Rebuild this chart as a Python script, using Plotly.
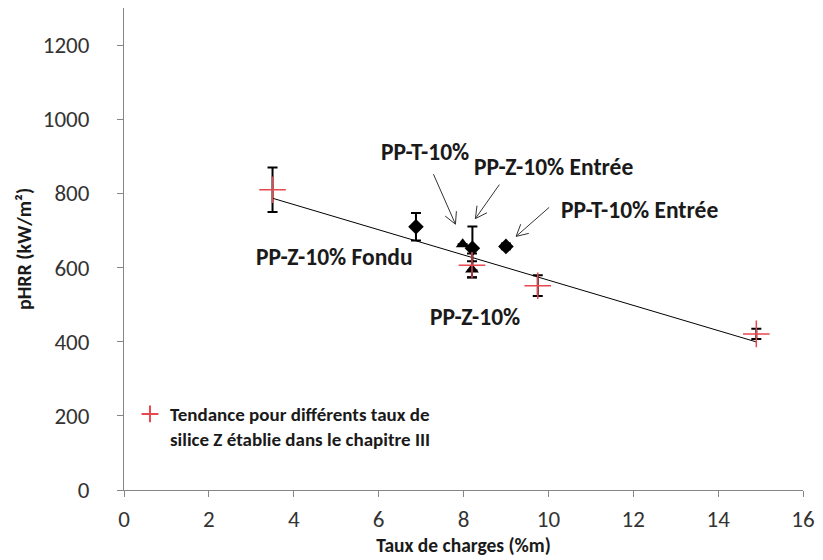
import numpy as np
import plotly.graph_objects as go

FONT = "Calibri, Carlito, 'Open Sans', sans-serif"

# Trend series: different silica Z loadings (chapter III)
trend_x = [3.5, 8.2, 9.75, 14.9]
trend_y = [810, 606, 551, 421]
trend_err = [60, 32, 28, 14]

# Individual formulations
diamond_names = ["PP-Z-10% Fondu", "PP-Z-10% Entrée", "PP-T-10% Entrée"]
diamond_x = [6.88, 8.21, 9.0]
diamond_y = [710, 652, 657]
diamond_err = [37, 59, 8]

triangle_names = ["PP-T-10%", "PP-Z-10%"]
triangle_x = [7.98, 8.2]
triangle_y = [663, 595]
triangle_err = [0, 22]

# Linear fit of the trend series
slope, intercept = np.polyfit(trend_x, trend_y, 1)
fit_x = np.array([min(trend_x), max(trend_x)])
fit_y = slope * fit_x + intercept

fig = go.Figure()

fig.add_trace(go.Scatter(
    x=fit_x, y=fit_y, mode="lines",
    line=dict(color="black", width=1), showlegend=False, hoverinfo="skip"))

err_style = dict(type="data", visible=True, color="black", thickness=2, width=5)

fig.add_trace(go.Scatter(
    x=diamond_x, y=diamond_y, mode="markers", text=diamond_names,
    marker=dict(symbol="diamond", size=12, color="black"),
    error_y=dict(array=diamond_err, **err_style), showlegend=False))

fig.add_trace(go.Scatter(
    x=triangle_x, y=triangle_y, mode="markers", text=triangle_names,
    marker=dict(symbol="triangle-up", size=12, color="black"),
    error_y=dict(array=triangle_err, **err_style), showlegend=False))

fig.add_trace(go.Scatter(
    x=trend_x, y=trend_y, mode="markers",
    name="Tendance pour différents taux de<br>silice Z établie dans le chapitre III",
    marker=dict(symbol="cross-thin", size=19,
                line=dict(color="#e8474d", width=1.5), color="#e8474d"),
    error_y=dict(array=trend_err, **err_style)))

# Labels with arrows: (text, label x, label y, arrow head x, head y, tail offset px)
labels = [
    ("PP-T-10%", 7.09, 911, 7.81, 717, (-22, 50)),
    ("PP-Z-10% Entrée", 10.13, 870, 8.28, 732, (24, 34)),
    ("PP-T-10% Entrée", 12.15, 754, 9.24, 684, (33, 29)),
    ("PP-Z-10% Fondu", 4.95, 628, None, None, None),
    ("PP-Z-10%", 8.27, 466, None, None, None),
]

shapes = []
for text, lx, ly, hx, hy, tail in labels:
    fig.add_annotation(x=lx, y=ly, text=f"<b>{text}</b>", showarrow=False,
                       font=dict(family=FONT, size=23.5, color="#1a1a1a"))
    if hx is None:
        continue
    dx, dy = tail
    line = dict(color="#333333", width=1)
    common = dict(type="line", xref="x", yref="y", xsizemode="pixel",
                  ysizemode="pixel", xanchor=hx, yanchor=hy, line=line)
    shapes.append(dict(x0=0, y0=0, x1=dx, y1=dy, **common))
    u = np.array([dx, dy]) / np.hypot(dx, dy)
    for ang in (np.radians(28), -np.radians(28)):
        rot = np.array([[np.cos(ang), -np.sin(ang)], [np.sin(ang), np.cos(ang)]])
        w = rot @ u * 13
        shapes.append(dict(x0=0, y0=0, x1=float(w[0]), y1=float(w[1]), **common))

axis_common = dict(
    showline=True, linecolor="#868686", linewidth=1, ticks="outside",
    ticklen=6, tickcolor="#868686", showgrid=False, zeroline=False,
    tickfont=dict(family=FONT, size=23, color="#333333"),
)

fig.update_layout(
    width=823, height=560,
    margin=dict(l=124, r=15, t=8, b=69),
    paper_bgcolor="white", plot_bgcolor="white",
    font=dict(family=FONT),
    shapes=shapes,
    xaxis=dict(range=[0, 16], dtick=2, ticklabelstandoff=2,
               title=dict(text="<b>Taux de charges (%m)</b>", standoff=6,
                          font=dict(family=FONT, size=19.5, color="#1a1a1a")),
               **axis_common),
    yaxis=dict(range=[0, 1300], tickvals=[0, 200, 400, 600, 800, 1000, 1200],
               ticklabelstandoff=23,
               title=dict(text="<b>pHRR (kW/m²)</b>", standoff=5,
                          font=dict(family=FONT, size=20, color="#1a1a1a")),
               **axis_common),
    legend=dict(x=0.0088, y=0.197, xanchor="left", yanchor="top",
                valign="top", itemsizing="constant", bgcolor="rgba(0,0,0,0)",
                font=dict(family=FONT, size=19, color="#1a1a1a", weight="bold")),
)

fig.write_html("out.html")
